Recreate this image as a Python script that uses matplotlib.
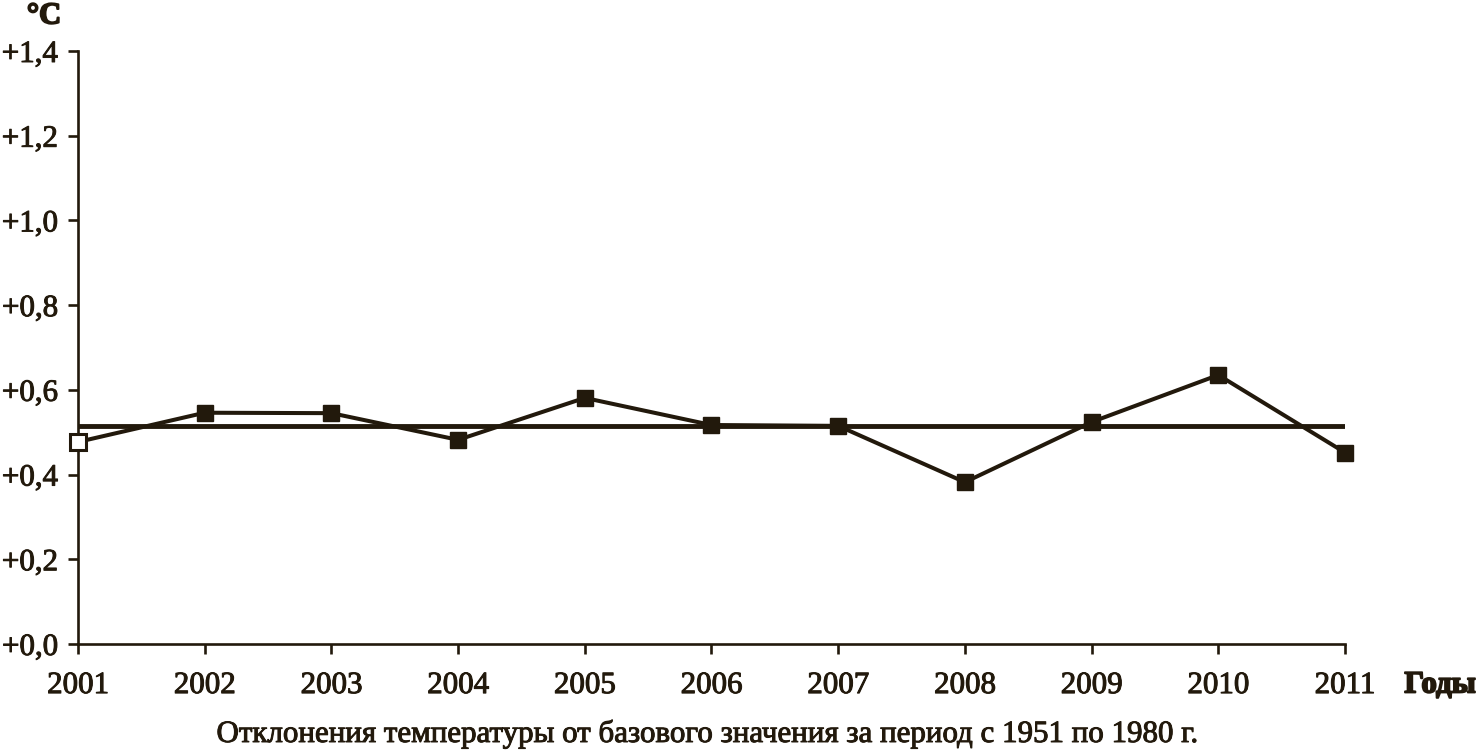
import matplotlib.pyplot as plt
import matplotlib.patheffects as pe
import numpy as np

# Data
years = [2001, 2002, 2003, 2004, 2005, 2006, 2007, 2008, 2009, 2010, 2011]
deviation = [0.477, 0.546, 0.545, 0.482, 0.581, 0.517, 0.515, 0.382, 0.524, 0.635, 0.452]
mean_level = 0.515
y_ticks = [0.0, 0.2, 0.4, 0.6, 0.8, 1.0, 1.2, 1.4]
y_labels = ['+0,0', '+0,2', '+0,4', '+0,6', '+0,8', '+1,0', '+1,2', '+1,4']

ink = '#22190c'
plt.rcParams['font.family'] = ['Liberation Serif', 'DejaVu Serif']
plt.rcParams['font.size'] = 22.3
# slightly heavier strokes, the original typeface is darker than Liberation Serif
heavy = [pe.withStroke(linewidth=0.7, foreground=ink)]
heavier = [pe.withStroke(linewidth=1.3, foreground=ink)]

fig = plt.figure(figsize=(14.79, 7.52), dpi=100)
ax = fig.add_axes([78 / 1479, 1 - 644 / 752, (1345 - 78) / 1479, (644 - 51) / 752])

# Mean line and yearly series
ax.plot([years[0], years[-1]], [mean_level, mean_level], color=ink, lw=3.5,
        solid_capstyle='round', zorder=2)
ax.plot(years, deviation, color=ink, lw=2.9, marker='s', markersize=11,
        markerfacecolor=ink, markeredgecolor=ink, zorder=3, clip_on=False)
# first point is drawn hollow
ax.plot(years[:1], deviation[:1], linestyle='none', marker='s', markersize=11,
        markerfacecolor='white', markeredgecolor=ink, markeredgewidth=2.2,
        zorder=4, clip_on=False)

ax.set_xlim(years[0], years[-1])
ax.set_ylim(0, 1.4)
ax.set_xticks(years)
ax.set_xticklabels([str(y) for y in years])
ax.set_yticks(y_ticks)
ax.set_yticklabels(y_labels)
for lbl in ax.get_xticklabels() + ax.get_yticklabels():
    lbl.set_path_effects(heavy)

for side in ['top', 'right']:
    ax.spines[side].set_visible(False)
for side in ['left', 'bottom']:
    ax.spines[side].set_color(ink)
    ax.spines[side].set_linewidth(1.9)
ax.tick_params(axis='both', colors=ink, width=1.9, length=7.5, direction='out')
ax.tick_params(axis='y', pad=7)
ax.tick_params(axis='x', pad=12)

fig.text(44 / 1479, 1 - 16 / 752, '°C', color=ink, fontsize=22, fontweight='bold',
         ha='center', va='center', path_effects=heavier)
fig.text(1476 / 1479, 1 - 685 / 752, 'Годы', color=ink, fontsize=22.3, fontweight='bold',
         ha='right', va='center', path_effects=heavier)
fig.text(708 / 1479, 1 - 734 / 752,
         'Отклонения температуры от базового значения за период с 1951 по 1980 г.',
         color=ink, fontsize=22.3, ha='center', va='center', path_effects=heavy)

fig.savefig('out.png', dpi=100, facecolor='white')
